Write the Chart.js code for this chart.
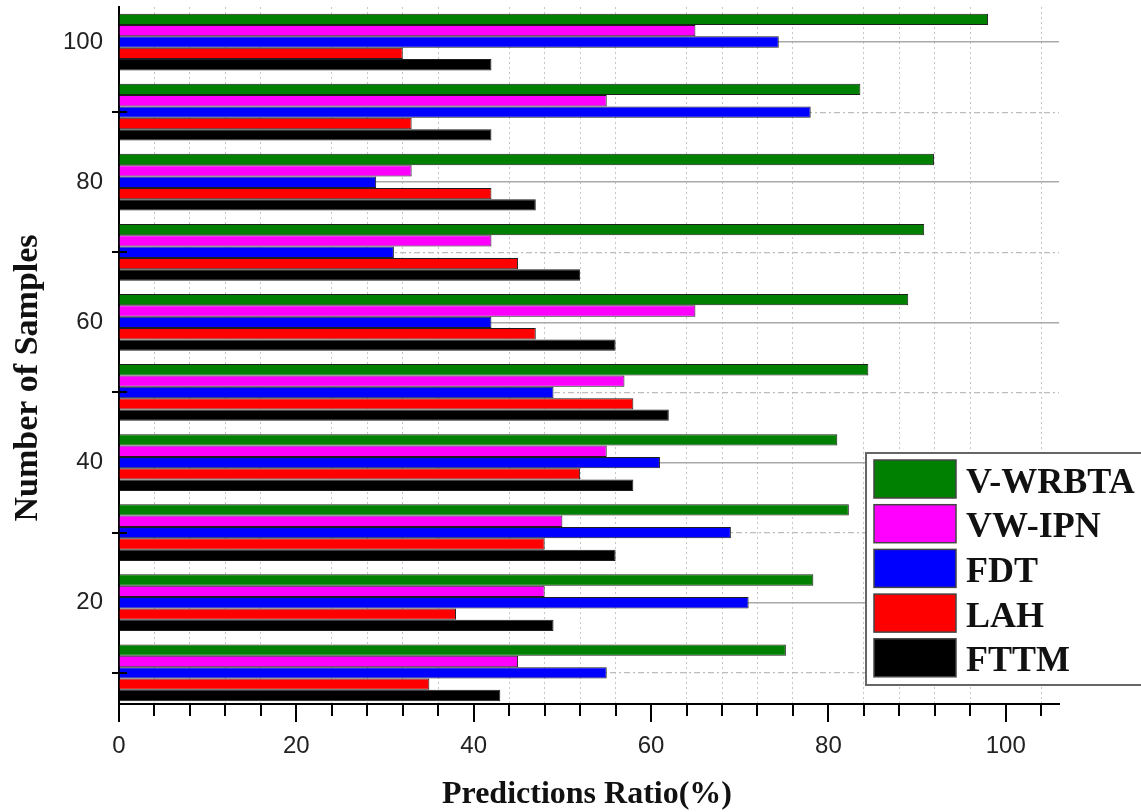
<!DOCTYPE html>
<html>
<head>
<meta charset="utf-8">
<title>Predictions Ratio by Number of Samples</title>
<script src="https://cdn.jsdelivr.net/npm/chart.js@4.4.1/dist/chart.umd.min.js"></script>
<style>
  html, body { margin: 0; padding: 0; background: #fff; }
  canvas { display: block; }
</style>
</head>
<body>
<canvas id="chart" width="1141" height="812"></canvas>
<script>
// Sample counts, listed top to bottom
const samples = [100, 90, 80, 70, 60, 50, 40, 30, 20, 10];

// Prediction ratio (%) for each method
const vWrbta = [98, 83.6, 91.9, 90.8, 89, 84.5, 81, 82.3, 78.3, 75.2];
const vwIpn  = [65, 55, 33, 42, 65, 57, 55, 50, 48, 45];
const fdt    = [74.4, 78, 29, 31, 42, 49, 61, 69, 71, 55];
const lah    = [32, 33, 42, 45, 47, 58, 52, 48, 38, 35];
const fttm   = [42, 42, 47, 52, 56, 62, 58, 56, 49, 43];

const seriesNames  = ['V-WRBTA', 'VW-IPN', 'FDT', 'LAH', 'FTTM'];
const seriesColors = ['#008000', '#ff00ff', '#0000ff', '#ff0000', '#000000'];

// Axis tick spacing
const xTickStep = 4;
const xLabelStep = 20;
const yTickStep = 10;
const yLabelStep = 20;

const SANS = '"Liberation Sans", Arial, sans-serif';
const SERIF = '"Liberation Serif", "Times New Roman", serif';

// Outward tick marks on the value axis, short crossing marks on the sample axis
const axisMarks = {
  id: 'axisMarks',
  afterDatasetsDraw(chart) {
    const { ctx, chartArea, scales: { x, y } } = chart;
    ctx.save();
    ctx.strokeStyle = '#000';
    ctx.lineWidth = 2;
    x.ticks.forEach(t => {
      const px = Math.round(x.getPixelForValue(t.value));
      const len = t.value % xLabelStep === 0 ? 18 : 12;
      ctx.beginPath();
      ctx.moveTo(px, chartArea.bottom);
      ctx.lineTo(px, chartArea.bottom + len);
      ctx.stroke();
    });
    y.ticks.forEach(t => {
      if (t.value % yLabelStep === 0) return;
      const py = Math.round(y.getPixelForValue(t.value));
      ctx.beginPath();
      ctx.moveTo(chartArea.left - 7, py);
      ctx.lineTo(chartArea.left + 8, py);
      ctx.stroke();
    });
    ctx.restore();
  }
};

// Axis titles
const axisTitles = {
  id: 'axisTitles',
  afterDraw(chart) {
    const { ctx, chartArea } = chart;
    ctx.save();
    ctx.fillStyle = '#111';
    ctx.textAlign = 'center';
    ctx.textBaseline = 'alphabetic';
    ctx.font = 'bold 32px ' + SERIF;
    ctx.fillText('Predictions Ratio(%)', (chartArea.left + chartArea.right) / 2 - 2, 803);
    ctx.translate(37, 378);
    ctx.rotate(-Math.PI / 2);
    ctx.font = 'bold 34px ' + SERIF;
    ctx.fillText('Number of Samples', 0, 0);
    ctx.restore();
  }
};

// Framed legend with large swatches, placed in the lower right
const boxLegend = {
  id: 'boxLegend',
  afterDraw(chart) {
    const { ctx } = chart;
    const left = 866, top = 453, bottom = 685;
    ctx.save();
    ctx.fillStyle = '#fff';
    ctx.fillRect(left, top, chart.width - left + 10, bottom - top);
    ctx.strokeStyle = '#666';
    ctx.lineWidth = 2;
    ctx.strokeRect(left, top, chart.width - left + 10, bottom - top);
    chart.data.datasets.forEach((ds, i) => {
      const yTop = 460 + i * 44.7;
      ctx.fillStyle = ds.backgroundColor;
      ctx.fillRect(874, yTop, 82, 38);
      ctx.strokeStyle = '#444';
      ctx.lineWidth = 1.5;
      ctx.strokeRect(874, yTop, 82, 38);
      ctx.fillStyle = '#111';
      ctx.font = 'bold 36px ' + SERIF;
      ctx.textAlign = 'left';
      ctx.textBaseline = 'alphabetic';
      ctx.fillText(ds.label, 966, yTop + 32.5);
    });
    ctx.restore();
  }
};

const seriesValues = [vWrbta, vwIpn, fdt, lah, fttm];

new Chart(document.getElementById('chart'), {
  type: 'bar',
  data: {
    labels: samples,
    datasets: seriesNames.map((name, i) => ({
      label: name,
      data: seriesValues[i],
      backgroundColor: seriesColors[i],
      borderColor: '#1e1e1e',
      borderWidth: 1,
      categoryPercentage: 0.81,
      barPercentage: 1.0
    }))
  },
  options: {
    indexAxis: 'y',
    responsive: false,
    animation: false,
    layout: { padding: { top: 7, right: 82, left: 0, bottom: 0 } },
    plugins: {
      legend: { display: false },
      tooltip: { enabled: false },
      title: { display: false }
    },
    scales: {
      x: {
        type: 'linear',
        min: 0,
        max: 106,
        afterFit(scale) {
          scale.height = 108;
          scale.paddingLeft = 0;
          scale.paddingRight = 0;
        },
        ticks: {
          stepSize: xTickStep,
          includeBounds: false,
          autoSkip: false,
          maxRotation: 0,
          minRotation: 0,
          padding: 28,
          color: '#222',
          font: { family: SANS, size: 24 },
          callback: v => (v % xLabelStep === 0 ? String(v) : '')
        },
        grid: {
          drawTicks: false,
          color: c => (c.tick && c.tick.value % xLabelStep === 0) ? 'rgba(0,0,0,0)' : '#c6c6c6',
          lineWidth: 1
        },
        border: { display: true, color: '#000', width: 2, dash: [2, 3] }
      },
      y: {
        type: 'linear',
        min: 5.55,
        max: 105,
        offset: false,
        afterFit(scale) {
          scale.width = 119;
          scale.paddingTop = 0;
          scale.paddingBottom = 0;
        },
        ticks: {
          stepSize: yTickStep,
          includeBounds: false,
          autoSkip: false,
          padding: 16,
          color: '#222',
          font: { family: SANS, size: 24 },
          callback: v => (v % yLabelStep === 0 ? String(v) : '')
        },
        grid: {
          offset: false,
          drawTicks: false,
          color: c => (c.tick && c.tick.value % yLabelStep === 0) ? '#a9a9a9' : '#bdbdbd',
          lineWidth: c => (c.tick && c.tick.value % yLabelStep === 0) ? 1.6 : 1.2
        },
        border: {
          display: true,
          color: '#000',
          width: 2,
          dash: c => (c.tick && c.tick.value % yLabelStep !== 0) ? [6, 3, 2, 3] : []
        }
      }
    }
  },
  plugins: [axisMarks, axisTitles, boxLegend]
});
</script>
</body>
</html>
